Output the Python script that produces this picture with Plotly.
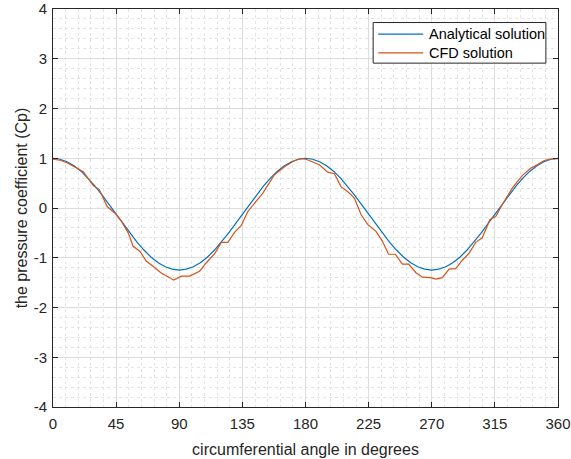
import plotly.graph_objects as go

# Analytical solution (every 5 degrees)
ana_theta = list(range(0, 361, 5))
ana_half = [1.0, 0.98, 0.93, 0.85, 0.74, 0.60, 0.44, 0.26, 0.07, -0.125,
            -0.32, -0.51, -0.69, -0.85, -0.99, -1.10, -1.18, -1.23, -1.25]
ana_cp = ana_half + ana_half[-2::-1] + ana_half[1:] + ana_half[-2::-1]

# CFD solution
cfd_theta = [0, 5, 10, 15, 21.6, 28.7, 33, 35.8, 38.6, 44, 48.8, 53.6, 57.1, 61.9,
             66.6, 71.3, 77.3, 82, 86, 91.5, 97.4, 104.5, 109.3, 115.2, 120,
             124.7, 129.4, 134.2, 138.9, 143.7, 149.6, 157.9, 165, 172, 176,
             180.4, 189.9, 195.8, 200.6, 205.3, 210, 214.8, 219.6, 224.3, 230.2,
             234.9, 239.2, 244, 249.1, 253.6, 258.7, 263.4, 269.3, 272.9, 277.6,
             282.4, 287.1, 291.8, 296.6, 301.3, 306, 311.5, 315.6, 320.3, 327.4,
             334.5, 340.5, 345.2, 349.9, 353.5, 358, 360]
cfd_cp = [0.98, 0.96, 0.91, 0.83, 0.73, 0.45, 0.37, 0.20, 0.03, -0.10, -0.27,
          -0.50, -0.77, -0.87, -1.07, -1.17, -1.31, -1.38, -1.45, -1.37, -1.37,
          -1.27, -1.10, -0.92, -0.69, -0.69, -0.49, -0.35, -0.07, 0.10, 0.30,
          0.67, 0.83, 0.95, 0.99, 0.98, 0.87, 0.72, 0.69, 0.43, 0.33, 0.20,
          -0.13, -0.33, -0.47, -0.67, -0.93, -0.93, -1.13, -1.13, -1.30, -1.39,
          -1.40, -1.43, -1.40, -1.23, -1.22, -1.05, -0.91, -0.69, -0.60, -0.23,
          -0.17, 0.07, 0.40, 0.65, 0.80, 0.87, 0.95, 0.98, 0.99, 0.99]

x_ticks = [0, 45, 90, 135, 180, 225, 270, 315, 360]
y_ticks = [-4, -3, -2, -1, 0, 1, 2, 3, 4]
y_tick_labels = ["-4", "-3", "-2", "-1", "0", "1", "2", "3", "4"]

series_names = ["Analytical solution", "CFD solution"]
series_colors = ["#0072BD", "#D95319"]

FONT = "Liberation Sans, Arial"

fig = go.Figure()
fig.add_trace(go.Scatter(x=ana_theta, y=ana_cp, mode="lines", name=series_names[0],
                         line=dict(color=series_colors[0], width=1.2)))
fig.add_trace(go.Scatter(x=cfd_theta, y=cfd_cp, mode="lines", name=series_names[1],
                         line=dict(color=series_colors[1], width=1.2)))

axcommon = dict(showline=True, linecolor="#262626", linewidth=1, mirror="ticks",
                ticks="inside", ticklen=5, tickcolor="#262626", automargin=False,
                showgrid=True, gridcolor="#dcdcdc", gridwidth=1, zeroline=False,
                ticklabeloverflow="allow",
                tickfont=dict(family=FONT, size=15, color="#262626"))

fig.update_xaxes(range=[0, 360], tickvals=x_ticks, ticklabelstandoff=3,
                 minor=dict(dtick=9, showgrid=True, gridcolor="#e4e4e4", griddash="dot", ticks=""),
                 title=dict(text="circumferential angle in degrees", standoff=12,
                            font=dict(family=FONT, size=16, color="#262626")),
                 **axcommon)
fig.update_yaxes(range=[-4, 4], tickvals=y_ticks, ticktext=y_tick_labels, ticklabelstandoff=2,
                 minor=dict(dtick=0.2, showgrid=True, gridcolor="#e4e4e4", griddash="dot", ticks=""),
                 title=dict(text="the pressure coefficient (Cp)", standoff=2,
                            font=dict(family=FONT, size=16, color="#262626")),
                 **axcommon)

# Legend drawn as a boxed key (MATLAB-style), in paper coordinates
lg_x0, lg_x1, lg_y0, lg_y1 = 0.634, 0.976, 0.864, 0.966
lg_rows = [0.937, 0.890]
lg_line = (0.644, 0.733)
lg_text_x = 0.741
fig.add_shape(type="rect", xref="paper", yref="paper", x0=lg_x0, x1=lg_x1, y0=lg_y0, y1=lg_y1,
              line=dict(color="#262626", width=1), fillcolor="white", layer="above")
for name, color, yy in zip(series_names, series_colors, lg_rows):
    fig.add_shape(type="line", xref="paper", yref="paper", x0=lg_line[0], x1=lg_line[1],
                  y0=yy, y1=yy, line=dict(color=color, width=1.2), layer="above")
    fig.add_annotation(xref="paper", yref="paper", x=lg_text_x, y=yy, text=name,
                       showarrow=False, xanchor="left", yanchor="middle",
                       font=dict(family=FONT, size=14.5, color="#000000"))

fig.update_layout(
    width=571, height=459,
    margin=dict(l=53, r=13, t=9, b=52),
    plot_bgcolor="white", paper_bgcolor="white",
    showlegend=False,
)

fig.write_html("out.html", config={"displayModeBar": False},
               post_script="document.body.style.margin='0';document.body.style.overflow='hidden';")
